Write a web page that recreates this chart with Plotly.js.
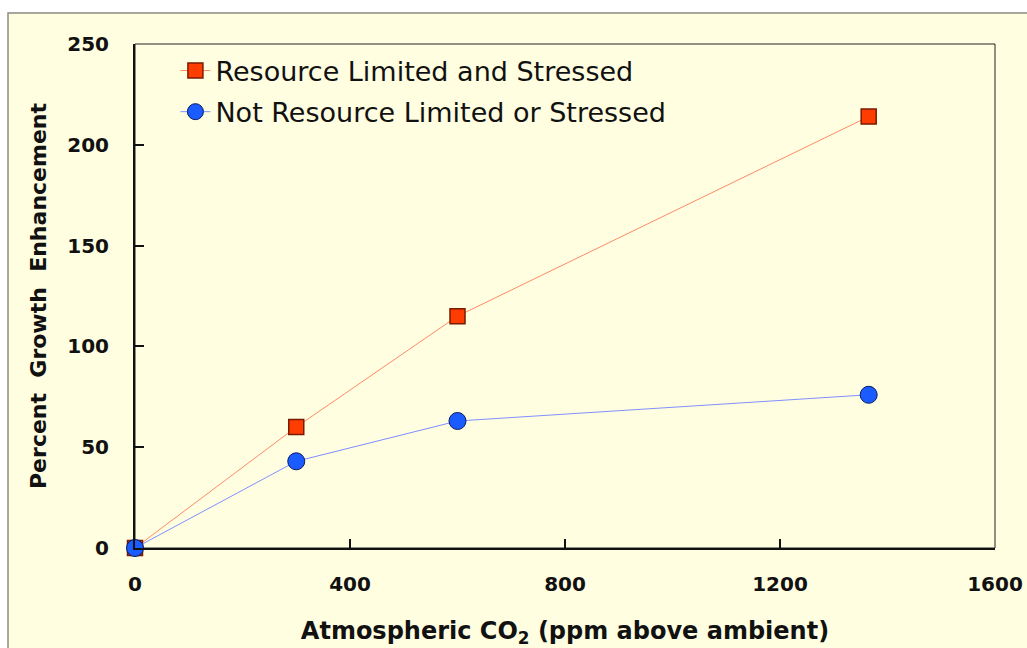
<!DOCTYPE html>
<html>
<head>
<meta charset="utf-8">
<script src="https://cdn.plot.ly/plotly-3.0.1.min.js"></script>
<style>
html,body{margin:0;padding:0;background:#ffffff;}
#chart{width:1027px;height:648px;}
</style>
</head>
<body>
<div id="chart"></div>
<script>
// Data
const co2 = [0, 300, 600, 1365];
const stressed = [0, 60, 115, 214];
const notStressed = [0, 43, 63, 76];
const seriesNames = ["Resource Limited and Stressed", "Not Resource Limited or Stressed"];
const xTicks = [0, 400, 800, 1200, 1600];
const yTicks = [0, 50, 100, 150, 200, 250];

const bg = "#FFFEE0";
const tickFont = {family: "DejaVu Sans", size: 20, weight: "bold", color: "#111111"};

const traces = [
  {
    x: co2, y: stressed, name: seriesNames[0], type: "scatter", mode: "lines+markers",
    legendgroup: "a", cliponaxis: false,
    line: {color: "#FF8A66", width: 1},
    marker: {symbol: "square", size: 15, color: "#FF3D00", line: {color: "#7A1A00", width: 1.5}}
  },
  {
    x: co2, y: notStressed, name: seriesNames[1], type: "scatter", mode: "lines+markers",
    legendgroup: "b", cliponaxis: false,
    line: {color: "#8090FF", width: 1},
    marker: {symbol: "circle", size: 17, color: "#1A5CFF", line: {color: "#0A1A60", width: 1}}
  }
];

const L = 135, R = 995, T = 44, B = 548;
const W = R - L, H = B - T;

const layout = {
  width: 1027, height: 648,
  margin: {l: L, r: 1027 - R, t: T, b: 648 - B},
  paper_bgcolor: "#ffffff",
  plot_bgcolor: bg,
  showlegend: true,
  legend: {
    x: 0.047, y: 0.995, xanchor: "left", yanchor: "top",
    bgcolor: "rgba(0,0,0,0)", borderwidth: 0,
    font: {family: "DejaVu Sans", size: 27, color: "#111111"},
    tracegroupgap: 3
  },
  xaxis: {
    range: [0, 1600], tickvals: xTicks, ticktext: xTicks.map(String),
    showgrid: false, zeroline: false,
    showline: true, linecolor: "#111111", linewidth: 2,
    ticks: "inside", ticklen: 9, tickwidth: 2, tickcolor: "#111111",
    tickfont: tickFont, ticklabelstandoff: 17,
    title: {text: "Atmospheric CO<sub>2</sub> (ppm above ambient)", font: {family: "DejaVu Sans", size: 24, weight: "bold", color: "#111111"}, standoff: 27},
    automargin: false, fixedrange: true
  },
  yaxis: {
    range: [0, 250], tickvals: yTicks, ticktext: yTicks.map(String),
    showgrid: false, zeroline: false,
    showline: true, linecolor: "#111111", linewidth: 2,
    ticks: "inside", ticklen: 9, tickwidth: 2, tickcolor: "#111111",
    tickfont: tickFont, ticklabelstandoff: 20,
    title: {text: "Percent  Growth  Enhancement", font: {family: "DejaVu Sans", size: 22, weight: "bold", color: "#111111"}, standoff: 15},
    automargin: false, fixedrange: true
  },
  shapes: [
    {
      type: "rect", xref: "paper", yref: "paper", layer: "below",
      x0: (8 - L) / W, x1: (1045 - L) / W,
      y0: (B - 665) / H, y1: (B - 13) / H,
      fillcolor: bg, line: {color: "#8C8C80", width: 1.5}
    },
    {
      type: "rect", xref: "paper", yref: "paper", layer: "below",
      x0: 0, x1: 1, y0: 0, y1: 1,
      line: {color: "#222222", width: 1}
    }
  ]
};

Plotly.newPlot("chart", traces, layout, {displayModeBar: false, staticPlot: true});
</script>
</body>
</html>
